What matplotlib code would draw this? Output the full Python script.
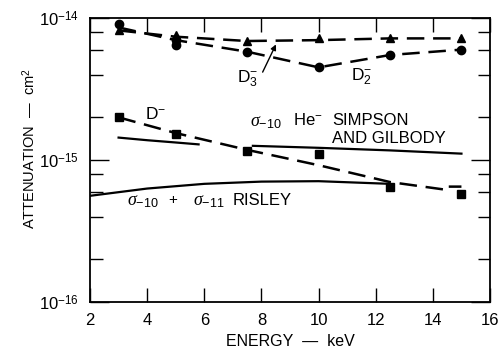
import numpy as np
import matplotlib
matplotlib.use("Agg")
import matplotlib.pyplot as plt
from matplotlib.ticker import LogLocator, NullFormatter, FixedLocator

plt.rcParams['font.family'] = ['Liberation Sans', 'DejaVu Sans']
plt.rcParams['mathtext.fontset'] = 'custom'
plt.rcParams['mathtext.rm'] = 'Liberation Sans'
plt.rcParams['mathtext.it'] = 'Liberation Serif:italic'

# D3- (triangles)
d3_x = [3, 5, 7.5, 10, 12.5, 15]
d3_y = [8.2e-15, 7.6e-15, 6.9e-15, 7.2e-15, 7.3e-15, 7.2e-15]
# D2- (circles)
d2_x = [3, 5, 5, 7.5, 10, 12.5, 15]
d2_y = [9.1e-15, 7.0e-15, 6.5e-15, 5.8e-15, 4.5e-15, 5.5e-15, 6.0e-15]
d2_line_x = [3, 5, 7.5, 10, 12.5, 15]
d2_line_y = [8.6e-15, 7.0e-15, 5.8e-15, 4.5e-15, 5.5e-15, 6.0e-15]
d3_line_x = [3, 5, 7.5, 10, 12.5, 15]
d3_line_y = [8.2e-15, 7.4e-15, 6.9e-15, 7.0e-15, 7.2e-15, 7.2e-15]
# D- (squares)
dm_x = [3, 5, 7.5, 10, 12.5, 15]
dm_y = [2.0e-15, 1.52e-15, 1.16e-15, 1.1e-15, 6.5e-16, 5.8e-16]
dm_line_x = [3, 5, 7.5, 10, 12.5, 14.4, 14.4, 15]
dm_line_y = [2.0e-15, 1.55e-15, 1.18e-15, 9.2e-16, 7.0e-16, 6.2e-16, 6.5e-16, 6.5e-16]
# Simpson and Gilbody (solid)
sg_x = [3, 4, 5, 5.8, np.nan, 7.7, 10, 12.5, 15]
sg_y = [1.44e-15, 1.38e-15, 1.33e-15, 1.29e-15, np.nan, 1.26e-15, 1.22e-15, 1.17e-15, 1.11e-15]
# Risley (solid)
ri_x = [2, 4, 6, 8, 10, 12.5]
ri_y = [5.6e-16, 6.3e-16, 6.8e-16, 7.05e-16, 7.1e-16, 6.8e-16]

fig = plt.figure(figsize=(4.99, 3.49), dpi=100)
ax = fig.add_axes([0.1804, 0.1347, 0.8016, 0.8133])
ax.set_yscale('log')
ax.set_xlim(2, 16)
ax.set_ylim(1e-16, 1e-14)

dash = (0, (7, 3.5))
ax.plot(d3_line_x, d3_line_y, color='black', lw=1.8, linestyle=dash)
ax.plot(d2_line_x, d2_line_y, color='black', lw=1.8, linestyle=dash)
ax.plot(dm_line_x, dm_line_y, color='black', lw=1.8, linestyle=dash)
ax.plot(sg_x, sg_y, color='black', lw=1.6)
ax.plot(ri_x, ri_y, color='black', lw=1.6)
ax.plot(d3_x, d3_y, linestyle='none', marker='^', color='black', ms=6)
ax.plot(d2_x, d2_y, linestyle='none', marker='o', color='black', ms=6)
ax.plot(dm_x, dm_y, linestyle='none', marker='s', color='black', ms=6)

ax.set_xticks([2, 4, 6, 8, 10, 12, 14, 16])
ax.set_xticklabels(['2', '4', '6', '8', '10', '12', '14', '16'])
ax.yaxis.set_major_locator(FixedLocator([1e-16, 1e-15, 1e-14]))
ax.set_yticklabels([r'$10^{-16}$', r'$10^{-15}$', r'$10^{-14}$'])
ax.yaxis.set_minor_locator(LogLocator(base=10, subs=[2, 4, 6, 8]))
ax.yaxis.set_minor_formatter(NullFormatter())
ax.tick_params(axis='both', which='major', direction='in', top=True, right=True,
               length=14, width=1.0, labelsize=12, pad=8)
ax.tick_params(axis='y', which='minor', direction='in', right=True, length=9, width=1.0)
ax.tick_params(axis='x', which='major', length=10)
for s in ax.spines.values():
    s.set_linewidth(1.3)

ax.set_xlabel('ENERGY  —  keV', fontsize=11.5, labelpad=4)
ax.set_ylabel('ATTENUATION  —  cm$^2$', fontsize=10.5, labelpad=2)
ax.yaxis.set_label_coords(-0.13, 0.54)

ax.text(7.5, 3.8e-15, r'D$_3^{-}$', fontsize=12.5, ha='center', va='center')
ax.annotate('', xy=(8.55, 6.8e-15), xytext=(8.0, 4.0e-15),
            arrowprops=dict(arrowstyle='-|>', color='black', lw=1.0, mutation_scale=8))
ax.text(11.5, 3.9e-15, r'D$_2^{-}$', fontsize=12.5, ha='center', va='center')
ax.text(4.3, 2.1e-15, r'D$^{-}$', fontsize=12.5, ha='center', va='center')
ax.text(7.6, 1.85e-15, r'$\sigma_{-10}$', fontsize=13, ha='left', va='center')
ax.text(9.1, 1.91e-15, r'He$^{-}$', fontsize=12, ha='left', va='center')
ax.text(10.47, 1.91e-15, 'SIMPSON', fontsize=12, ha='left', va='center')
ax.text(10.47, 1.43e-15, 'AND GILBODY', fontsize=12, ha='left', va='center')
ax.text(3.3, 5.1e-16, r'$\sigma_{-10}$', fontsize=13, ha='left', va='center')
ax.text(4.9, 5.25e-16, '+', fontsize=11, ha='center', va='center')
ax.text(5.6, 5.1e-16, r'$\sigma_{-11}$', fontsize=13, ha='left', va='center')
ax.text(7.0, 5.2e-16, 'RISLEY', fontsize=12, ha='left', va='center')

fig.savefig('out.png', dpi=100)
